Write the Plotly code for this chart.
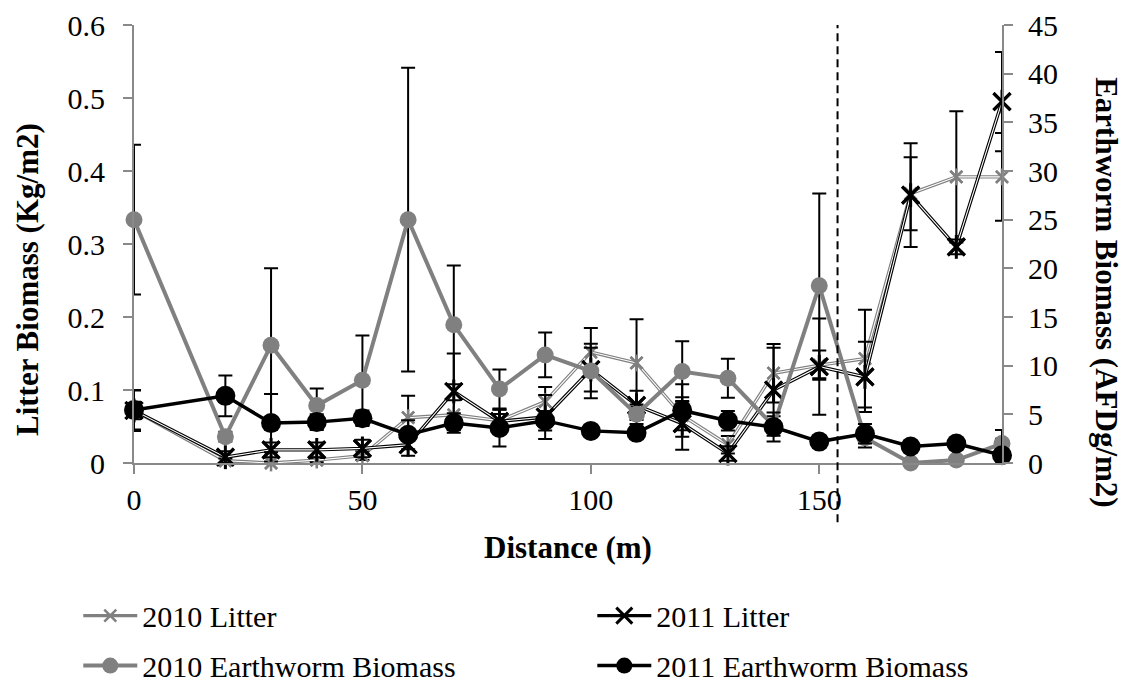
import plotly.graph_objects as go

# ---- data ----
distance = [0, 20, 30, 40, 50, 60, 70, 80, 90, 100, 110, 120, 130, 140, 150, 160, 170, 180, 190]

litter_2010 = [0.072, 0.003, 0.000, 0.004, 0.010, 0.062, 0.066, 0.058, 0.084, 0.152, 0.137, 0.065,
               0.025, 0.123, 0.134, 0.143, 0.369, 0.392, 0.392]
litter_2010_err = [0.012, 0.003, 0.002, 0.003, 0.006, 0.030, 0.020, 0.015, 0.020, 0.033, 0.060, 0.020,
                   0.012, 0.040, 0.020, 0.067, 0.050, 0.090, 0.060]

litter_2011 = [0.072, 0.008, 0.018, 0.018, 0.020, 0.025, 0.098, 0.057, 0.063, 0.128, 0.079, 0.054,
               0.013, 0.100, 0.132, 0.118, 0.367, 0.296, 0.495]
litter_2011_err = [0.028, 0.008, 0.010, 0.010, 0.012, 0.015, 0.052, 0.010, 0.030, 0.030, 0.020, 0.036,
                   0.010, 0.058, 0.066, 0.048, 0.071, 0.010, 0.068]

ew_2010 = [25.0, 2.7, 12.1, 5.9, 8.5, 25.0, 14.2, 7.6, 11.1, 9.45, 5.0, 9.4, 8.7, 3.8, 18.2, 2.6, 0.0, 0.3, 2.0]
ew_2010_err = [7.7, 0.5, 7.9, 1.75, 4.6, 15.6, 6.1, 2.0, 2.3, 2.8, 1.0, 3.1, 2.0, 1.0, 9.5, 1.0, 0.3, 0.3, 0.5]

ew_2011 = [5.45, 6.9, 4.1, 4.2, 4.6, 2.9, 4.1, 3.6, 4.35, 3.3, 3.1, 5.4, 4.35, 3.7, 2.2, 3.0, 1.7, 2.0, 0.8]
ew_2011_err = [2.0, 2.1, 3.0, 0.8, 0.8, 1.5, 1.0, 1.9, 1.0, 0.6, 0.6, 2.7, 1.0, 1.5, 0.6, 1.0, 0.5, 0.5, 2.6]

boundary_x = 154

x_ticks = [0, 50, 100, 150]
legend_names = ["2010 Litter", "2011 Litter", "2010 Earthworm Biomass", "2011 Earthworm Biomass"]

GRAY = "#808080"
BLACK = "#000000"
AXIS = "#898989"
FONT = "Liberation Serif"
FS = 30

fig = go.Figure()


def add_litter(name, y, err, color, msize, mwidth, legend):
    mk = dict(symbol="x-thin-open", size=msize, color=color, line=dict(color=color, width=mwidth))
    # legend trace (coloured line + marker)
    fig.add_trace(go.Scatter(
        x=distance, y=y, name=name, mode="lines+markers", legendgroup=name, legend=legend,
        line=dict(color=color, width=3.4), marker=mk, cliponaxis=False, hoverinfo="skip"))
    # white core to mimic the double line
    fig.add_trace(go.Scatter(
        x=distance, y=y, mode="lines", legendgroup=name, showlegend=False,
        line=dict(color="white", width=1.1), hoverinfo="skip"))
    # markers + error bars on top
    fig.add_trace(go.Scatter(
        x=distance, y=y, mode="markers", legendgroup=name, showlegend=False, marker=mk,
        error_y=dict(type="data", array=err, color=BLACK, thickness=2, width=7),
        cliponaxis=False))
    fig.add_trace(go.Scatter(
        x=distance, y=y, mode="markers", legendgroup=name, showlegend=False,
        marker=dict(symbol="line-ns-open", size=msize, color=color,
                    line=dict(color=color, width=mwidth)),
        cliponaxis=False, hoverinfo="skip"))


add_litter(legend_names[0], litter_2010, litter_2010_err, GRAY, 12, 2.5, "legend")
add_litter(legend_names[1], litter_2011, litter_2011_err, BLACK, 17, 3, "legend2")

fig.add_trace(go.Scatter(
    x=distance, y=ew_2010, name=legend_names[2], mode="lines+markers", yaxis="y2",
    legend="legend", legendgroup=legend_names[2],
    line=dict(color=GRAY, width=4),
    marker=dict(symbol="circle", size=17, color=GRAY),
    error_y=dict(type="data", array=ew_2010_err, color=BLACK, thickness=2, width=7),
    cliponaxis=False))
fig.add_trace(go.Scatter(
    x=distance, y=ew_2011, name=legend_names[3], mode="lines+markers", yaxis="y2",
    legend="legend2", legendgroup=legend_names[3],
    line=dict(color=BLACK, width=3.5),
    marker=dict(symbol="circle", size=20, color=BLACK),
    error_y=dict(type="data", array=ew_2011_err, color=BLACK, thickness=2, width=7),
    cliponaxis=False))

fig.add_shape(type="line", xref="x", yref="paper", x0=boundary_x, x1=boundary_x,
              y0=-0.135, y1=1.0, line=dict(color=BLACK, width=2, dash="8px,5px"))

axis_common = dict(showline=True, linecolor=AXIS, linewidth=2, ticks="outside", ticklen=9,
                   tickcolor=AXIS, tickwidth=2, showgrid=False, zeroline=False,
                   tickfont=dict(family=FONT, size=FS, color=BLACK))

legend_common = dict(orientation="v", xanchor="left", yanchor="top", itemwidth=54,
                     tracegroupgap=8, font=dict(family=FONT, size=FS, color=BLACK),
                     bgcolor="rgba(0,0,0,0)", y=-0.289)

fig.update_layout(
    width=1130, height=682,
    margin=dict(l=134, r=128, t=25, b=219, autoexpand=False),
    paper_bgcolor="white", plot_bgcolor="white",
    font=dict(family=FONT, size=FS, color=BLACK),
    xaxis=dict(range=[0, 190], tickvals=x_ticks, ticklabelstandoff=0, **axis_common),
    yaxis=dict(range=[0, 0.6], dtick=0.1, ticklabelstandoff=12, **axis_common),
    yaxis2=dict(range=[0, 45], dtick=5, overlaying="y", side="right", ticklabelstandoff=9,
                **axis_common),
    legend=dict(x=-0.0642, **legend_common),
    legend2=dict(x=0.528, **legend_common),
    showlegend=True,
    annotations=[
        dict(text="<b>Distance (m)</b>", xref="paper", yref="paper", x=0.5, y=-0.192,
             xanchor="center", yanchor="middle", showarrow=False,
             font=dict(family=FONT, size=31, color=BLACK)),
        dict(text="<b>Litter Biomass (Kg/m2)</b>", xref="paper", yref="paper", x=-0.122, y=0.418,
             xanchor="center", yanchor="middle", showarrow=False, textangle=-90,
             font=dict(family=FONT, size=31, color=BLACK)),
        dict(text="<b>Earthworm Biomass (AFDg/m2)</b>", xref="paper", yref="paper", x=1.121, y=0.39,
             xanchor="center", yanchor="middle", showarrow=False, textangle=90,
             font=dict(family=FONT, size=31, color=BLACK)),
    ],
)

fig.write_html("out.html")
